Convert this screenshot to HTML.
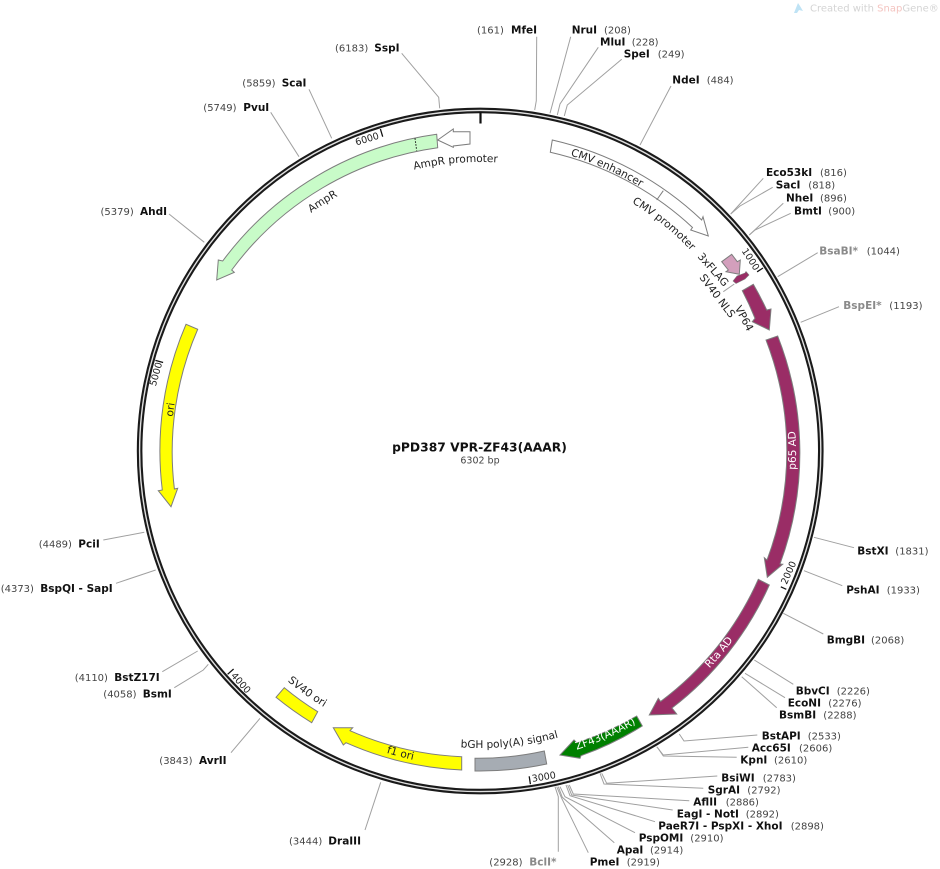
<!DOCTYPE html>
<html>
<head>
<meta charset="utf-8">
<style>
html,body{margin:0;padding:0;background:#fff;width:940px;height:869px;overflow:hidden}
svg{display:block;filter:blur(0.3px)}
text{font-family:"DejaVu Sans","Liberation Sans",sans-serif}
.b{font-weight:bold;font-size:10.5px;fill:#111}
.g{font-weight:bold;font-size:10.5px;fill:#8a8a8a}
.n{font-size:10px;fill:#444}
.f{font-size:10.6px;fill:#222}
.w{font-size:10.6px;fill:#fff}
.t{font-size:9.5px;fill:#222}
.l{fill:none;stroke:#a0a0a0;stroke-width:1}
.s{stroke:#7d7d7d;stroke-width:1}
</style>
</head>
<body>
<svg width="940" height="869" viewBox="0 0 940 869" xmlns="http://www.w3.org/2000/svg">
<defs>
<path id="p1" d="M480 740A289 289 0 1 1 480 162A289 289 0 1 1 480 740"/>
<path id="p2" d="M480 743A292 292 0 1 1 480 159A292 292 0 1 1 480 743"/>
<path id="p3" d="M480 760A309 309 0 1 1 480 142A309 309 0 1 1 480 760"/>
<path id="p4" d="M480 742A291 291 0 1 1 480 160A291 291 0 1 1 480 742"/>
<path id="p5" d="M480 135A316 316 0 1 0 480 767A316 316 0 1 0 480 135"/>
<path id="p6" d="M480 137A314 314 0 1 0 480 765A314 314 0 1 0 480 137"/>
<path id="p7" d="M480 154A297 297 0 1 0 480 748A297 297 0 1 0 480 154"/>
<path id="p8" d="M480 151A300 300 0 1 0 480 751A300 300 0 1 0 480 151"/>
</defs>

<!-- watermark -->
<path d="M794 13L798 3L800 6L803 11L799 10L797 13Z" fill="#bfe3f5"/>
<text x="810" y="11.5" style="font-size:10px" fill="#d4d4d4">Created with <tspan fill="#f4c4c0">Snap</tspan>Gene®</text>

<!-- leader lines -->
<g class="l">
<polyline points="401.7,53.3 438.7,97.3 439.7,108.3"/>
<polyline points="536.7,36.7 536.3,100.7 534.7,110"/>
<polyline points="570.7,36.7 550,113.3"/>
<polyline points="598.3,47.3 560,104 557.3,115"/>
<polyline points="621.7,59.3 567.3,105 564.3,116"/>
<polyline points="671,86 640,145"/>
<polyline points="763.3,178.3 730.7,214"/>
<polyline points="772.7,187.3 740,206 730.7,214"/>
<polyline points="783.3,203.3 749.3,235"/>
<polyline points="790.7,213.3 755,230 749.3,235"/>
<polyline points="817.7,252.7 777.7,276.7"/>
<polyline points="839,306.7 800.7,322.3"/>
<polyline points="854,547.7 814,537.3"/>
<polyline points="842.3,585.7 804,570.7"/>
<polyline points="823.3,634 783.3,613.3"/>
<polyline points="793.3,684.3 754.3,660"/>
<polyline points="785,697.7 745,673.3"/>
<polyline points="776.7,707.7 741.7,676.7"/>
<polyline points="757.3,735 684,741 679.3,734"/>
<polyline points="748.3,747.3 663.3,755 656.7,746.7"/>
<polyline points="736.7,757.3 663.3,756 657.5,747.5"/>
<polyline points="717.3,776 606.7,783.3 601.7,773.3"/>
<polyline points="703.3,788.3 604,784 600,773.3"/>
<polyline points="689.3,800.7 573.3,794 569.3,785"/>
<polyline points="672.7,810 571.7,795 567.7,785"/>
<polyline points="655,821.7 570,795.7 566,785"/>
<polyline points="635,832.7 565,796.7 560,786.7"/>
<polyline points="614.3,842.7 562.3,797.3 558.3,786.7"/>
<polyline points="588.3,852.7 561.7,798.3 556.7,786.7"/>
<polyline points="558.3,851.7 558.3,796.7 555,786.7"/>
<polyline points="365,830 380.7,782.3"/>
<polyline points="231,752.7 260,718.3"/>
<polyline points="174.3,687.7 203.3,670 208.3,664.3"/>
<polyline points="162.3,671.7 197.7,651"/>
<polyline points="116,583.3 155.7,570"/>
<polyline points="103.3,540 144.3,532.3"/>
<polyline points="169,214 204.3,242.3"/>
<polyline points="270.7,112.3 299,156.7"/>
<polyline points="309,89.3 331.7,138.3"/>
<polyline points="723.3,291.7 734.3,284"/>
</g>

<!-- backbone -->
<circle cx="480.2" cy="451" r="340.6" fill="none" stroke="#1a1a1a" stroke-width="5.6"/>
<circle cx="480.2" cy="451" r="340.6" fill="none" stroke="#e0e0e0" stroke-width="1.4"/>

<!-- ticks -->
<g stroke="#111" fill="none">
<line x1="480.5" y1="112" x2="480.5" y2="123.5" stroke-width="2.2"/>
<line x1="757.1" y1="271.8" x2="763" y2="268" stroke-width="1.3"/>
<line x1="780.8" y1="586.8" x2="786.3" y2="589.3" stroke-width="1.3"/>
<line x1="529.2" y1="776.3" x2="530.4" y2="784.2" stroke-width="1.3"/>
<line x1="233.6" y1="669" x2="227.6" y2="674.3" stroke-width="1.3"/>
<line x1="163.1" y1="362.5" x2="155.4" y2="360.4" stroke-width="1.3"/>
<line x1="382.7" y1="136.7" x2="380.4" y2="129" stroke-width="1.3"/>
</g>
<g class="t" text-anchor="middle">
<text transform="translate(748,261) rotate(57)" style="font-size:9.5px">1000</text>
<text transform="translate(791.5,574) rotate(-66)" style="font-size:9.5px">2000</text>
<text transform="translate(544.3,780) rotate(-9)" style="font-size:9.5px">3000</text>
<text transform="translate(238.5,685) rotate(48.5)" style="font-size:9.5px">4000</text>
<text transform="translate(159,375) rotate(-74.4)" style="font-size:9.5px">5000</text>
<text transform="translate(368,142) rotate(-17)" style="font-size:9.5px">6000</text>
</g>

<!-- features -->
<g class="s">
<path d="M552.3 140A320 320 0 0 1 701.7 220L703 216.7L708.3 236L690.7 230L692.5 227.5A308 308 0 0 0 550.3 152.3Z" fill="#fff"/>
<line x1="663.3" y1="190.7" x2="656.7" y2="200"/>
<path d="M437.7 140L453.3 129L453.3 131.7L470 131.7L470 144L453.3 146L453.3 147.3Z" fill="#fff"/>
<path d="M436.7 134.3A320 320 0 0 0 222.7 261L218.3 260L216.7 280L234.3 272.3L231.7 270A308 308 0 0 1 437.7 147.7Z" fill="#c8fbc8"/>
<path d="M186 324.3A320 320 0 0 0 162.3 490L158.3 490.7L171 506.7L177.7 488.3L174.4 489A308 308 0 0 1 197.7 329.3Z" fill="#ffff00"/>
<!-- 3xFLAG -->
<path d="M721.7 261.7L731.7 254.3L737.3 261.7L740.3 260L739.3 274.3L726 271.7L728.3 270Z" fill="#d39fbc"/>
<!-- SV40 NLS -->
<path d="M733 281L737 276L745 273L746 271.5L749 275L745 279L736 283.5Z" fill="#9a2d66" stroke-width="0.6"/>
<!-- VP64 -->
<path d="M742.3 290.7L753.3 284.3A320 320 0 0 1 766.7 310L771 309L769.3 330L752.3 321.7L755 318.3A308 308 0 0 0 742.3 290.7Z" fill="#9a2d66"/>
<path d="M777.7 336A320 320 0 0 1 780 564L782.7 564.3L767.3 577.3L764.3 557.7L767 560A308 308 0 0 0 766 340Z" fill="#9a2d66"/>
<path d="M769.3 585A320 320 0 0 1 672 708L676.7 714L649.3 715L658.3 698.3L660.6 701.5A308 308 0 0 0 758.3 579.3Z" fill="#9a2d66"/>
<path d="M642.3 726A320 320 0 0 1 581 755.7L580 758.3L560 755L574 740L576.7 742.7A308 308 0 0 0 636.7 716Z" fill="#008000"/>
<path d="M475 758.3A308 308 0 0 0 544.3 751L546.7 764A320 320 0 0 1 475 771Z" fill="#a6acb3"/>
<path d="M461.7 756.7A308 308 0 0 1 350 730.7L352.7 727.7L333.3 727.7L343.3 745L346 742.7A320 320 0 0 0 461.7 770Z" fill="#ffff00"/>
<path d="M284.3 687.7A308 308 0 0 0 317.7 711.7L311.7 722.7A320 320 0 0 1 276 697.3Z" fill="#ffff00"/>
</g>
<line x1="415" y1="138.3" x2="416.7" y2="150.7" stroke="#111" stroke-width="1" stroke-dasharray="1.5 1.5"/>

<!-- feature labels -->
<text class="f" text-anchor="middle"><textPath href="#p1" startOffset="883.2">AmpR promoter</textPath></text>
<text class="f" text-anchor="middle"><textPath href="#p2" startOffset="752.7">AmpR</textPath></text>
<text class="f" text-anchor="middle"><textPath href="#p3" startOffset="526.4">ori</textPath></text>
<text class="f" text-anchor="middle"><textPath href="#p3" startOffset="1100.7">CMV enhancer</textPath></text>
<text class="f" text-anchor="middle"><textPath href="#p4" startOffset="1111.8">CMV promoter</textPath></text>
<text class="w" text-anchor="middle"><textPath href="#p5" startOffset="1489.1">p65 AD</textPath></text>
<text class="w" text-anchor="middle"><textPath href="#p5" startOffset="1267.4">Rta AD</textPath></text>
<text class="w" text-anchor="middle"><textPath href="#p6" startOffset="1116.9">ZF43(AAAR)</textPath></text>
<text class="f" text-anchor="middle"><textPath href="#p7" startOffset="962.6">bGH poly(A) signal</textPath></text>
<text class="f" text-anchor="middle"><textPath href="#p5" startOffset="911.1">f1 ori</textPath></text>
<text class="f" text-anchor="middle"><textPath href="#p8" startOffset="755.6">SV40 ori</textPath></text>
<text class="f" text-anchor="middle" transform="translate(710.5,272) rotate(48.6)">3xFLAG</text>
<text class="f" text-anchor="middle" transform="translate(714.5,298) rotate(52.8)">SV40 NLS</text>
<text class="f" text-anchor="middle" transform="translate(741,320) rotate(62)">VP64</text>

<!-- center -->
<text x="479.5" y="451.5" text-anchor="middle" style="font-weight:bold;font-size:12.3px" fill="#111">pPD387 VPR-ZF43(AAAR)</text>
<text x="480" y="463.5" text-anchor="middle" style="font-size:9.5px" fill="#444">6302 bp</text>

<!-- enzyme labels -->
<text class="n" x="335" y="51.6">(6183)</text><text class="b" x="374.3" y="51.6">SspI</text>
<text class="n" x="477" y="33.6">(161)</text><text class="b" x="511" y="33.6">MfeI</text>
<text class="b" x="571.7" y="33.6">NruI</text><text class="n" x="604" y="33.6">(208)</text>
<text class="b" x="600" y="45.6">MluI</text><text class="n" x="631.7" y="45.6">(228)</text>
<text class="b" x="623.7" y="57.6">SpeI</text><text class="n" x="657.7" y="57.6">(249)</text>
<text class="b" x="672.3" y="83.6">NdeI</text><text class="n" x="706.7" y="83.6">(484)</text>
<text class="b" x="766" y="175.9">Eco53kI</text><text class="n" x="820" y="175.9">(816)</text>
<text class="b" x="775.7" y="188.3">SacI</text><text class="n" x="808.3" y="188.3">(818)</text>
<text class="b" x="786" y="201.6">NheI</text><text class="n" x="820" y="201.6">(896)</text>
<text class="b" x="794" y="214.3">BmtI</text><text class="n" x="828.3" y="214.3">(900)</text>
<text class="g" x="819.3" y="254.6">BsaBI*</text><text class="n" x="866.7" y="254.6">(1044)</text>
<text class="g" x="843.3" y="308.9">BspEI*</text><text class="n" x="889.3" y="308.9">(1193)</text>
<text class="b" x="857.3" y="554.6">BstXI</text><text class="n" x="895.3" y="554.6">(1831)</text>
<text class="b" x="846.3" y="593.3">PshAI</text><text class="n" x="886.7" y="593.3">(1933)</text>
<text class="b" x="826.7" y="643.6">BmgBI</text><text class="n" x="871" y="643.6">(2068)</text>
<text class="b" x="795.7" y="694.3">BbvCI</text><text class="n" x="836.7" y="694.3">(2226)</text>
<text class="b" x="787.7" y="706.3">EcoNI</text><text class="n" x="828.3" y="706.3">(2276)</text>
<text class="b" x="779" y="718.3">BsmBI</text><text class="n" x="823.3" y="718.3">(2288)</text>
<text class="b" x="761.7" y="739.3">BstAPI</text><text class="n" x="807.7" y="739.3">(2533)</text>
<text class="b" x="751.7" y="751.3">Acc65I</text><text class="n" x="799" y="751.3">(2606)</text>
<text class="b" x="740.3" y="763.6">KpnI</text><text class="n" x="774" y="763.6">(2610)</text>
<text class="b" x="721.3" y="781.3">BsiWI</text><text class="n" x="762.7" y="781.3">(2783)</text>
<text class="b" x="707.7" y="793.6">SgrAI</text><text class="n" x="747.3" y="793.6">(2792)</text>
<text class="b" x="693.3" y="805.6">AflII</text><text class="n" x="725.7" y="805.6">(2886)</text>
<text class="b" x="676.7" y="817.6">EagI - NotI</text><text class="n" x="745.7" y="817.6">(2892)</text>
<text class="b" x="658.3" y="829.6">PaeR7I - PspXI - XhoI</text><text class="n" x="790.7" y="829.6">(2898)</text>
<text class="b" x="638.7" y="841.6">PspOMI</text><text class="n" x="690.3" y="841.6">(2910)</text>
<text class="b" x="616.7" y="853.6">ApaI</text><text class="n" x="650" y="853.6">(2914)</text>
<text class="b" x="589.7" y="865.6">PmeI</text><text class="n" x="626.7" y="865.6">(2919)</text>
<text class="n" x="489.3" y="865.6">(2928)</text><text class="g" x="529.3" y="865.6">BclI*</text>
<text class="n" x="289" y="844.3">(3444)</text><text class="b" x="328.3" y="844.3">DraIII</text>
<text class="n" x="159.3" y="763.9">(3843)</text><text class="b" x="199" y="763.9">AvrII</text>
<text class="n" x="103.3" y="697.6">(4058)</text><text class="b" x="142.7" y="697.6">BsmI</text>
<text class="n" x="74.7" y="680.9">(4110)</text><text class="b" x="114.3" y="680.9">BstZ17I</text>
<text class="n" x="0.7" y="591.9">(4373)</text><text class="b" x="40.3" y="591.9">BspQI - SapI</text>
<text class="n" x="38.7" y="547.3">(4489)</text><text class="b" x="78.3" y="547.3">PciI</text>
<text class="n" x="100.5" y="214.9">(5379)</text><text class="b" x="140" y="214.9">AhdI</text>
<text class="n" x="203.3" y="110.9">(5749)</text><text class="b" x="243.3" y="110.9">PvuI</text>
<text class="n" x="242.3" y="86.6">(5859)</text><text class="b" x="281.7" y="86.6">ScaI</text>
</svg>
</body>
</html>
